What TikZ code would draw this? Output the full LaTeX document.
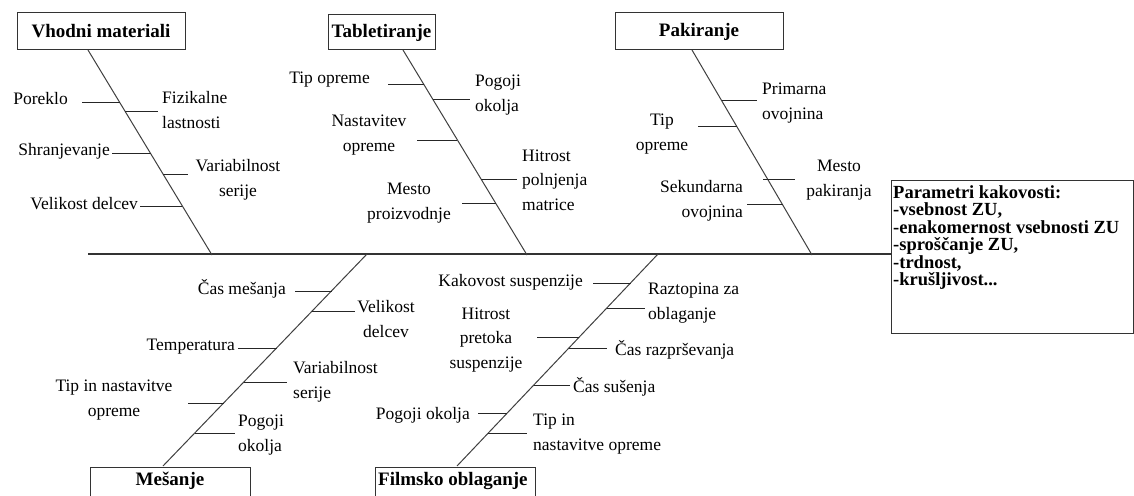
\documentclass[tikz,border=0pt]{standalone}
\usepackage{fontspec}
\setmainfont{Liberation Serif}
\begin{document}
\begin{tikzpicture}[x=1pt,y=-1pt,
  lbl/.style={font=\fontsize{17.5}{24.5}\selectfont, inner sep=0pt},
  ttlbox/.style={draw=black!80, line width=1pt, font=\bfseries\fontsize{19}{22}\selectfont, inner sep=0pt},
  pline/.style={font=\bfseries\fontsize{18.5}{20}\selectfont, inner sep=0pt, anchor=base west},
  bone/.style={draw=black!75, line width=1pt},
  tick/.style={draw=black!85, line width=1pt},
  spine/.style={draw=black!80, line width=1.2pt}]
\clip (0,0) rectangle (1134,495);
\fill[white] (0,0) rectangle (1134,495);

% title boxes
\node[ttlbox, minimum width=168, minimum height=37] (vm) at (101,31.5) {Vhodni materiali};
\node[ttlbox, minimum width=107, minimum height=35] (tb) at (381.5,32.5) {Tabletiranje};
\node[ttlbox, minimum width=168, minimum height=37] (pk) at (699,31.5) {Pakiranje};
\node[ttlbox, minimum width=160, minimum height=40, anchor=north west] (ms) at (90,467) {};
\node[ttlbox, minimum width=160, minimum height=40, anchor=north west] (fo) at (375,467) {};
\node[font=\bfseries\fontsize{19}{22}\selectfont, inner sep=0pt, anchor=base] (mst) at (170,485) {Mešanje};
\node[font=\bfseries\fontsize{19}{22}\selectfont, inner sep=0pt, anchor=base west] (fot) at (378,485) {Filmsko oblaganje};

% parameter box
\node[draw=black!80, line width=1pt, minimum width=242, minimum height=153, anchor=north west, inner sep=0pt] (par) at (891,180) {};
\node[pline] (p1) at (893,198) {Parametri kakovosti:};
\node[pline] (p2) at (893,215.5) {-vsebnost ZU,};
\node[pline] (p3) at (893,233) {-enakomernost vsebnosti ZU};
\node[pline] (p4) at (893,250.5) {-sproščanje ZU,};
\node[pline] (p5) at (893,268) {-trdnost,};
\node[pline] (p6) at (893,285.5) {-krušljivost...};

% spine
\coordinate (sL) at (88,254);
\draw[spine] (sL) -- (sL -| par.west);

% bones
\coordinate (b1t) at (88,50);  \coordinate (b1b) at (212,255);
\coordinate (b2t) at (403,50); \coordinate (b2b) at (527,255);
\coordinate (b3t) at (692,50); \coordinate (b3b) at (812,255);
\coordinate (b4t) at (367,254); \coordinate (b4b) at (163,466);
\coordinate (b5t) at (658,254); \coordinate (b5b) at (457,466);
\draw[bone] (b1t) -- (b1b);
\draw[bone] (b2t) -- (b2b);
\draw[bone] (b3t) -- (b3b);
\draw[bone] (b4b) -- (b4t);
\draw[bone] (b5b) -- (b5t);

% Vhodni materiali
\node[lbl, anchor=east] (v1) at (68,99) {Poreklo};
\draw[tick] (82,102) -- (119.5,102);
\node[lbl, anchor=west, align=left] (v2) at (162,110) {Fizikalne\\lastnosti};
\draw[tick] (125,111) -- (158,111);
\node[lbl, anchor=east] (v3) at (110,151) {Shranjevanje};
\draw[tick] (112,153) -- (150.5,153);
\node[lbl, align=center] (v4) at (238,180) {Variabilnost\\serije};
\draw[tick] (163,174) -- (188,174);
\node[lbl, anchor=east] (v5) at (138,204) {Velikost delcev};
\draw[tick] (140,206) -- (182,206);

% Tabletiranje
\node[lbl, anchor=east] (t1) at (370,80) {Tip opreme};
\draw[tick] (388,84) -- (424,84);
\node[lbl, anchor=west, align=left] (t2) at (475,95) {Pogoji\\okolja};
\draw[tick] (433,99) -- (470,99);
\node[lbl, align=center] (t3) at (369,135) {Nastavitev\\opreme};
\draw[tick] (417,140) -- (457,140);
\node[lbl, anchor=west, align=left] (t4) at (522,180) {Hitrost\\polnjenja\\matrice};
\draw[tick] (481,179) -- (517,179);
\node[lbl, align=center] (t5) at (409,203) {Mesto\\proizvodnje};
\draw[tick] (462,203) -- (496,203);

% Pakiranje
\node[lbl, anchor=west, align=left] (k1) at (762,103) {Primarna\\ovojnina};
\draw[tick] (721.5,100) -- (757,100);
\node[lbl, align=center] (k2) at (662,134) {Tip\\opreme};
\draw[tick] (698,126) -- (736.5,126);
\node[lbl, align=center] (k3) at (839,180) {Mesto\\pakiranja};
\draw[tick] (763,179) -- (795,179);
\node[lbl, anchor=east, align=right] (k4) at (743,201) {Sekundarna\\ovojnina};
\draw[tick] (747,204) -- (782.5,204);

% Mesanje
\node[lbl, anchor=east] (m1) at (286,289) {Čas mešanja};
\draw[tick] (295,291) -- (331.5,291);
\node[lbl, align=center] (m2) at (386,319) {Velikost\\delcev};
\draw[tick] (312,311) -- (355,311);
\node[lbl, anchor=east] (m3) at (235,347) {Temperatura};
\draw[tick] (238,348) -- (276.5,348);
\node[lbl, anchor=west, align=left] (m4) at (293,382) {Variabilnost\\serije};
\draw[tick] (244,382) -- (287,382);
\node[lbl, align=center] (m5) at (114,400) {Tip in nastavitve\\opreme};
\draw[tick] (188,403) -- (223.6,403);
\node[lbl, anchor=west, align=left] (m6) at (238,435) {Pogoji\\okolja};
\draw[tick] (194.7,433) -- (235,433);

% Filmsko oblaganje
\node[lbl, anchor=east] (f1) at (583,282) {Kakovost suspenzije};
\draw[tick] (593,283) -- (630.5,283);
\node[lbl, anchor=west, align=left] (f2) at (648,303) {Raztopina za\\oblaganje};
\draw[tick] (607,308) -- (645,308);
\node[lbl, align=center] (f3) at (486,340) {Hitrost\\pretoka\\suspenzije};
\draw[tick] (537,337) -- (579.3,337);
\node[lbl, anchor=west] (f4) at (615,350) {Čas razprševanja};
\draw[tick] (569,348) -- (607,348);
\node[lbl, anchor=west] (f5) at (573,387) {Čas sušenja};
\draw[tick] (534,385) -- (570,385);
\node[lbl, anchor=east] (f6) at (470,415) {Pogoji okolja};
\draw[tick] (478,413) -- (507.2,413);
\node[lbl, anchor=west, align=left] (f7) at (533,434) {Tip in\\nastavitve opreme};
\draw[tick] (488.3,433) -- (527,433);
\end{tikzpicture}
\end{document}
